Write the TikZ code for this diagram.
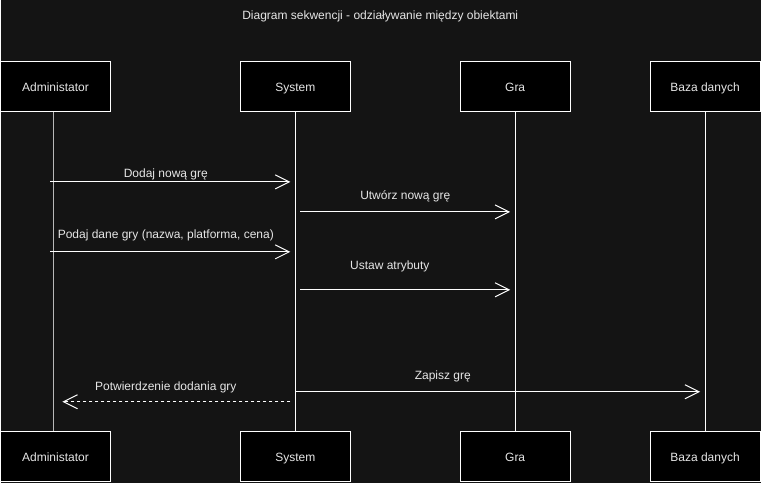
\documentclass[tikz,border=0pt]{standalone}
\usepackage{fontspec}
\setmainfont{Liberation Sans}
\usepackage{xcolor}
\usetikzlibrary{arrows.meta}

\definecolor{bgdark}{HTML}{141414}
\definecolor{txtgrey}{HTML}{E6E6E6}
\definecolor{linegrey}{HTML}{B8B8B8}

\begin{document}
\begin{tikzpicture}[x=0.75pt, y=-0.75pt, >={Straight Barb[length=10.5pt, width=10.5pt]}, line width=0.75pt,
		obj/.style={draw=white, fill=black, text=txtgrey, minimum width=82.5pt, minimum height=37.5pt, inner sep=0pt, text height=6.6pt, text depth=0pt, font=\fontsize{9}{11}\selectfont},
		life/.style={draw=white},
		msg/.style={->, draw=white},
		reply/.style={->, draw=white, dash pattern=on 2.25pt off 2.25pt},
		lbl/.style={text=txtgrey, inner sep=0pt, text height=6.6pt, text depth=0pt, font=\fontsize{9}{11}\selectfont}]
			\fill[bgdark] (0, 0) rectangle (761, 483);

			\node[lbl]				(title)	at (380, 15)	{Diagram sekwencji - odziaływanie między obiektami};

			\node[obj]				(adm)	at (55, 87)		{Administator};
			\node[obj]				(sys)	at (295, 87)	{System};
			\node[obj]				(gra)	at (515, 87)	{Gra};
			\node[obj]				(baza)	at (705, 87)	{Baza danych};
			\node[obj]				(adm2)	at (55, 457)	{Administator};
			\node[obj]				(sys2)	at (295, 457)	{System};
			\node[obj]				(gra2)	at (515, 457)	{Gra};
			\node[obj]				(baza2)	at (705, 457)	{Baza danych};

			% lifelines
			\draw[life, draw=linegrey] ([xshift=-1.5pt]adm.south) -- ([xshift=-1.5pt]adm2.north);
			\draw[life] (sys.south) -- (sys2.north);
			\draw[life] (gra.south) -- (gra2.north);
			\draw[life] (baza.south) -- (baza2.north);

			% message ends on the lifelines
			\coordinate (a1) at (adm.south |- 0, 182);
			\coordinate (s1) at (sys.south |- 0, 182);
			\coordinate (s2) at (sys.south |- 0, 212);
			\coordinate (g2) at (gra.south |- 0, 212);
			\coordinate (a3) at (adm.south |- 0, 252);
			\coordinate (s3) at (sys.south |- 0, 252);
			\coordinate (s4) at (sys.south |- 0, 290);
			\coordinate (g4) at (gra.south |- 0, 290);
			\coordinate (s5) at (sys.south |- 0, 392);
			\coordinate (b5) at (baza.south |- 0, 392);
			\coordinate (s6) at (sys.south |- 0, 402);
			\coordinate (a6) at (adm.south |- 0, 402);

			\path	(a1) edge[msg, shorten <=-3.75pt, shorten >=3.75pt] node[lbl, pos=0.46, yshift=6.75pt] {Dodaj nową grę} (s1)
					(s2) edge[msg, shorten <=3.75pt, shorten >=3.75pt] node[lbl, pos=0.5, yshift=12.75pt] {Utwórz nową grę} (g2)
					(a3) edge[msg, shorten <=-3.75pt, shorten >=3.75pt] node[lbl, pos=0.46, yshift=13.5pt] {Podaj dane gry (nazwa, platforma, cena)} (s3)
					(s4) edge[msg, shorten <=3.75pt, shorten >=3.75pt] node[lbl, pos=0.43, yshift=18.75pt] {Ustaw atrybuty} (g4)
					(s5) edge[msg, shorten >=3.75pt] node[lbl, pos=0.36, yshift=12.75pt] {Zapisz grę} (b5)
					(s6) edge[reply, shorten <=3.75pt, shorten >=5.25pt] node[lbl, pos=0.54, yshift=12pt] {Potwierdzenie dodania gry} (a6);
		\end{tikzpicture}
\end{document}
